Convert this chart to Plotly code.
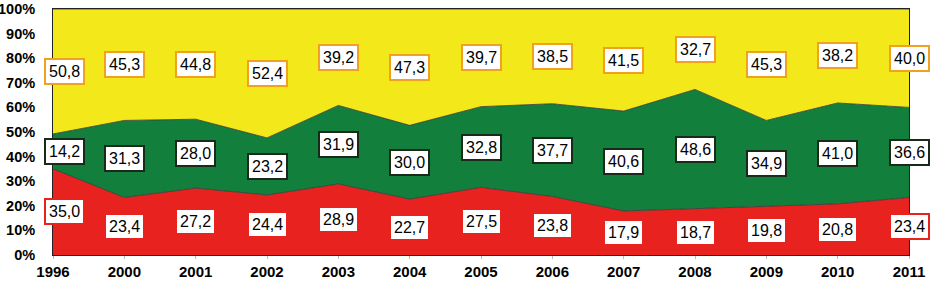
import plotly.graph_objects as go

years = ["1996", "2000", "2001", "2002", "2003", "2004", "2005", "2006",
         "2007", "2008", "2009", "2010", "2011"]
red_vals = [35.0, 23.4, 27.2, 24.4, 28.9, 22.7, 27.5, 23.8, 17.9, 18.7, 19.8, 20.8, 23.4]
green_vals = [14.2, 31.3, 28.0, 23.2, 31.9, 30.0, 32.8, 37.7, 40.6, 48.6, 34.9, 41.0, 36.6]
yellow_vals = [50.8, 45.3, 44.8, 52.4, 39.2, 47.3, 39.7, 38.5, 41.5, 32.7, 45.3, 38.2, 40.0]

RED = "#e8231f"
GREEN = "#12803c"
YELLOW = "#f2e81a"

fig = go.Figure()
series = [
    ("red", red_vals, RED, "#e8231f"),
    ("green", green_vals, GREEN, "#1a2a1a"),
    ("yellow", yellow_vals, YELLOW, "#f2a020"),
]
for name, vals, col, _ in series:
    fig.add_trace(go.Scatter(
        x=years, y=vals, name=name, stackgroup="one", mode="lines",
        line=dict(color="#333333", width=0.8), fillcolor=col,
        hoverinfo="skip", showlegend=False,
    ))

annotations = []
base = [0.0] * len(years)
for name, vals, col, border in series:
    for i, v in enumerate(vals):
        mid = base[i] + v / 2
        annotations.append(dict(
            x=i, y=mid, xref="x", yref="y",
            text=f"{v:.1f}".replace(".", ","),
            showarrow=False, bgcolor="white", bordercolor=border,
            borderwidth=2, borderpad=3,
            font=dict(family="Liberation Sans, Arial", size=16, color="black"),
            xshift=11 if i == 0 else 0,
        ))
    base = [b + v for b, v in zip(base, vals)]

fig.update_layout(
    width=930, height=282,
    margin=dict(l=53, r=21, t=9, b=27),
    paper_bgcolor="white", plot_bgcolor="white",
    annotations=annotations,
    font=dict(family="Liberation Sans, Arial", color="black"),
)
fig.update_xaxes(
    type="category", range=[0, len(years) - 1], automargin=False,
    showgrid=False, showline=True, linecolor="#222", linewidth=1, mirror=True,
    ticks="outside", ticklen=3, tickcolor="#bbb", ticklabelstandoff=0,
    ticklabeloverflow="allow",
    tickfont=dict(family="Liberation Sans, Arial", size=15, color="black", weight="bold"),
)
fig.update_yaxes(
    range=[0, 100], dtick=10, ticksuffix="%", automargin=False,
    showgrid=False, showline=True, linecolor="#222", linewidth=1, mirror=True,
    ticks="", zeroline=False, ticklabelstandoff=14, ticklabeloverflow="allow",
    tickfont=dict(family="Liberation Sans, Arial", size=14.5, color="black", weight="bold"),
)

fig.write_html("out.html", config={"displayModeBar": False},
               post_script="document.body.style.margin='0';")
